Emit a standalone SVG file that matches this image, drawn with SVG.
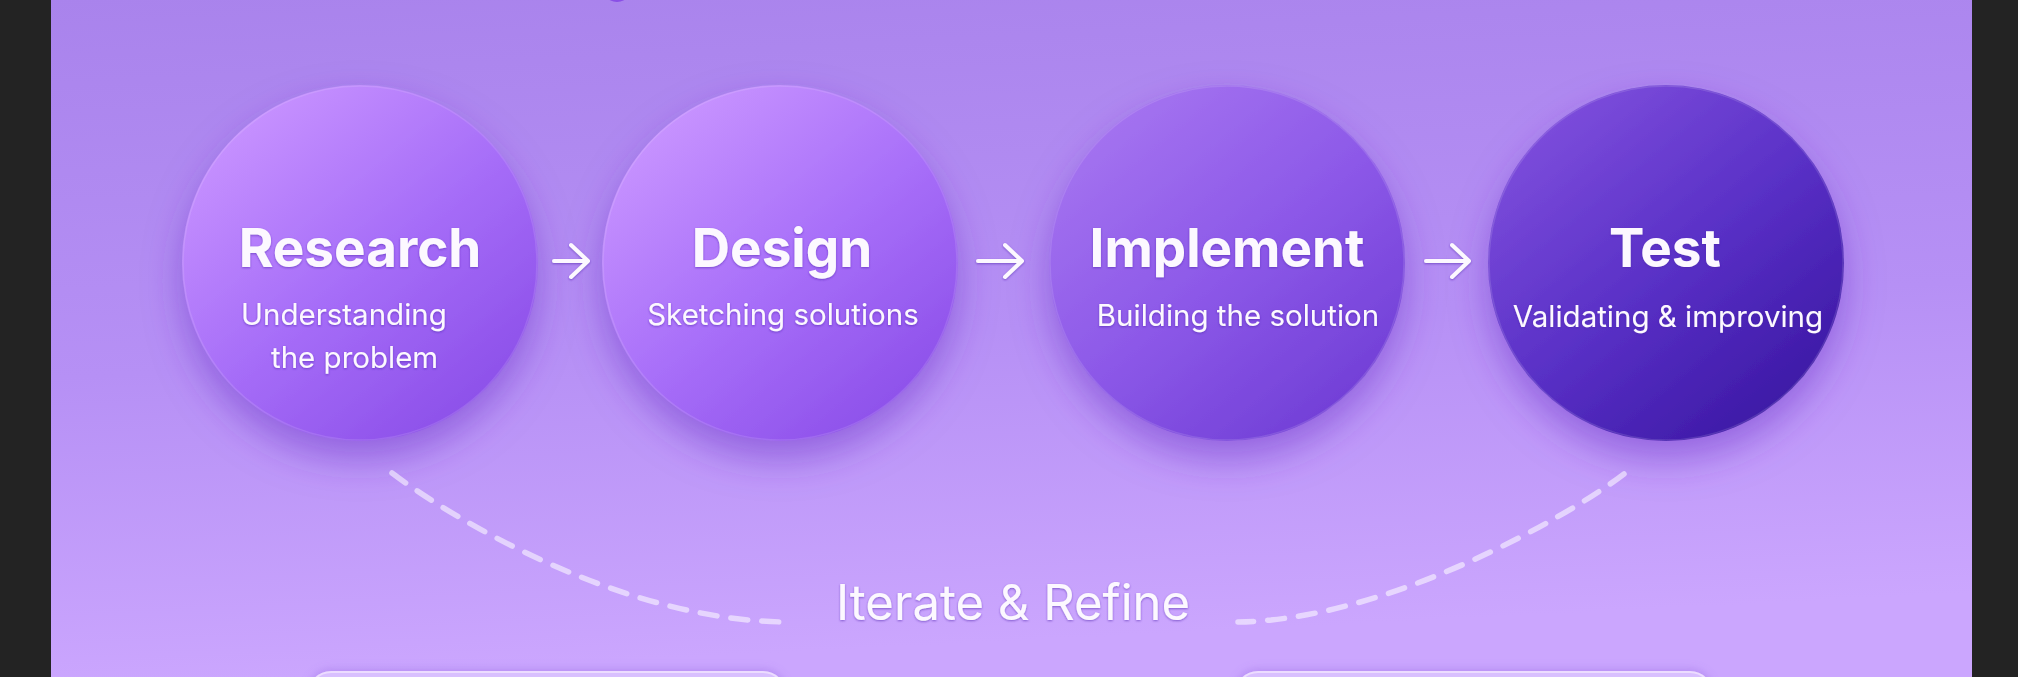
<svg xmlns="http://www.w3.org/2000/svg" width="2018" height="677" viewBox="0 0 2018 677">
  <defs>
    <linearGradient id="bg" x1="0" y1="0" x2="0.15" y2="1">
      <stop offset="0" stop-color="#a983ec"/>
      <stop offset="0.55" stop-color="#b690f5"/>
      <stop offset="1" stop-color="#cba6fe"/>
    </linearGradient>
    <linearGradient id="gResearch" x1="0.15" y1="0.1" x2="0.85" y2="0.95">
      <stop offset="0" stop-color="#c792ff"/>
      <stop offset="0.5" stop-color="#a66df8"/>
      <stop offset="1" stop-color="#8a4de8"/>
    </linearGradient>
    <linearGradient id="gDesign" x1="0.15" y1="0.1" x2="0.85" y2="0.95">
      <stop offset="0" stop-color="#c894ff"/>
      <stop offset="0.5" stop-color="#a86ff9"/>
      <stop offset="1" stop-color="#8b4ee9"/>
    </linearGradient>
    <linearGradient id="gImplement" x1="0.15" y1="0.1" x2="0.85" y2="0.95">
      <stop offset="0" stop-color="#a473f0"/>
      <stop offset="0.5" stop-color="#8c58e8"/>
      <stop offset="1" stop-color="#6f3dd5"/>
    </linearGradient>
    <linearGradient id="gTest" x1="0.15" y1="0.1" x2="0.85" y2="0.95">
      <stop offset="0" stop-color="#7d4ddc"/>
      <stop offset="0.5" stop-color="#5930c6"/>
      <stop offset="1" stop-color="#3a17a3"/>
    </linearGradient>
    <filter id="circleShadow" x="-30%" y="-30%" width="160%" height="170%">
      <feDropShadow dx="0" dy="18" stdDeviation="18" flood-color="#6a2fc8" flood-opacity="0.5"/>
    </filter>
    <filter id="textShadow" x="-10%" y="-30%" width="120%" height="160%">
      <feDropShadow dx="0" dy="1" stdDeviation="1.2" flood-color="#4a1aa8" flood-opacity="0.55"/>
    </filter>
    <filter id="cardShadow" x="-10%" y="-100%" width="120%" height="300%">
      <feDropShadow dx="0" dy="-2" stdDeviation="4" flood-color="#8c5ee0" flood-opacity="0.35"/>
    </filter>
  </defs>
  <style>
    .title { font-family: Inter, "Liberation Sans", sans-serif; font-weight: 700; font-size: 53px; fill: #fcf8ff; text-anchor: middle; }
    .sub { font-family: Inter, "Liberation Sans", sans-serif; font-weight: 400; font-size: 29.5px; fill: #fcf8ff; }
    .mid { text-anchor: middle; }
    .rim { fill: none; stroke: #ffffff; stroke-opacity: 0.12; stroke-width: 1.5; }
    .arrow { fill: none; stroke: #fcf8ff; stroke-width: 4; stroke-linecap: round; stroke-linejoin: round; }
    .loop { fill: none; stroke: #ffffff; stroke-opacity: 0.55; stroke-width: 5.5; stroke-linecap: round; stroke-dasharray: 17 14; }
    .card { fill: #d9c0ff; stroke: #ecdcff; stroke-width: 2; }
  </style>

  <!-- page background and side bands -->
  <rect x="0" y="0" width="2018" height="677" fill="url(#bg)"/>
  <rect x="0" y="0" width="51" height="677" fill="#232323"/>
  <rect x="1972" y="0" width="46" height="677" fill="#232323"/>
  <ellipse cx="617" cy="-3" rx="9" ry="5" fill="#8a4fe6"/>

  <!-- cards peeking in at the bottom -->
  <rect class="card" x="309" y="672" width="476" height="44" rx="22" filter="url(#cardShadow)"/>
  <rect class="card" x="1236" y="672" width="476" height="44" rx="22" filter="url(#cardShadow)"/>

  <!-- step nodes -->
  <g id="node-research">
    <circle cx="360" cy="263" r="178" fill="url(#gResearch)" filter="url(#circleShadow)"/>
    <circle class="rim" cx="360" cy="263" r="177"/>
    <g filter="url(#textShadow)">
      <text class="title" x="360" y="267">Research</text>
      <text class="sub" x="241" y="325">Understanding</text>
      <text class="sub" x="271" y="368">the problem</text>
    </g>
  </g>

  <g id="node-design">
    <circle cx="780" cy="263" r="178" fill="url(#gDesign)" filter="url(#circleShadow)"/>
    <circle class="rim" cx="780" cy="263" r="177"/>
    <g filter="url(#textShadow)">
      <text class="title" x="782" y="267">Design</text>
      <text class="sub mid" x="783" y="325">Sketching solutions</text>
    </g>
  </g>

  <g id="node-implement">
    <circle cx="1227" cy="263" r="178" fill="url(#gImplement)" filter="url(#circleShadow)"/>
    <circle class="rim" cx="1227" cy="263" r="177"/>
    <g filter="url(#textShadow)">
      <text class="title" x="1227" y="267">Implement</text>
      <text class="sub mid" x="1238" y="326">Building the solution</text>
    </g>
  </g>

  <g id="node-test">
    <circle cx="1666" cy="263" r="178" fill="url(#gTest)" filter="url(#circleShadow)"/>
    <circle class="rim" cx="1666" cy="263" r="177"/>
    <g filter="url(#textShadow)">
      <text class="title" x="1665" y="267">Test</text>
      <text class="sub mid" x="1668" y="327" font-size="29">Validating &amp; improving</text>
    </g>
  </g>

  <!-- connectors -->
  <g id="connectors">
    <g filter="url(#textShadow)">
      <path class="arrow" d="M554,261 H587 M571,245 L588,261 L571,277"/>
      <path class="arrow" d="M978,261 H1021 M1005,245 L1022,261 L1005,277"/>
      <path class="arrow" d="M1426,261 H1468 M1452,245 L1469,261 L1452,277"/>
    </g>
    <path class="loop" d="M392,473 C450,517 620,620 785,622"/>
    <path class="loop" d="M1624,474 C1566,518 1386,620 1238,622"/>
    <text x="1013" y="620" font-family="Inter, 'Liberation Sans', sans-serif" font-size="49" fill="#fcf8ff" text-anchor="middle" filter="url(#textShadow)">Iterate &amp; Refine</text>
  </g>
</svg>
